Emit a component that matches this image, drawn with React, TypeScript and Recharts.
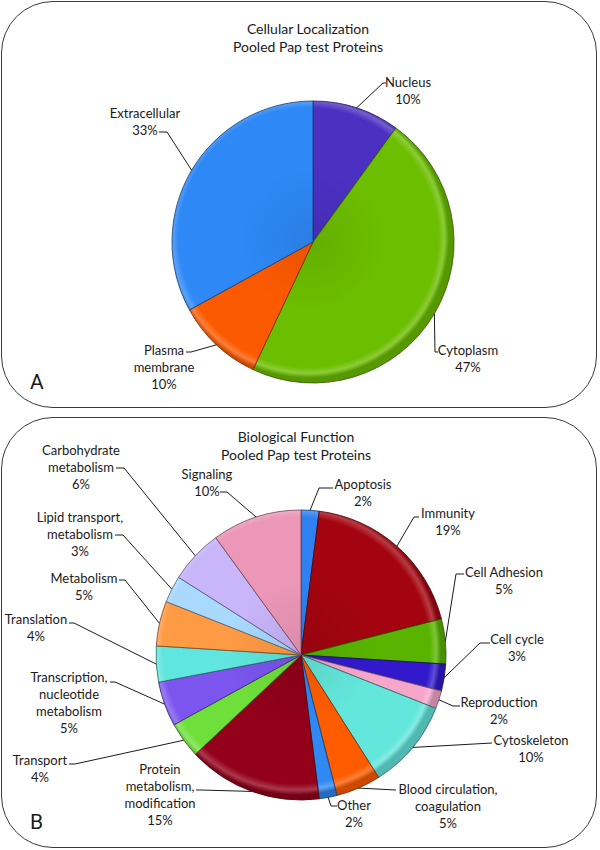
import { PieChart, Pie, Cell } from "recharts";

// ─── data ───────────────────────────────────────────
const LOC_NAMES = ["Nucleus", "Cytoplasm", "Plasma\nmembrane", "Extracellular"];
const LOC_VALUES = [10, 47, 10, 33];

const FUNC_NAMES = [
  "Apoptosis",
  "Immunity",
  "Cell Adhesion",
  "Cell cycle",
  "Reproduction",
  "Cytoskeleton",
  "Blood circulation,\ncoagulation",
  "Other",
  "Protein\nmetabolism,\nmodification",
  "Transport",
  "Transcription,\nnucleotide\nmetabolism",
  "Translation",
  "Metabolism",
  "Lipid transport,\nmetabolism",
  "Carbohydrate\nmetabolism",
  "Signaling",
];
const FUNC_VALUES = [2, 19, 5, 3, 2, 10, 5, 2, 15, 4, 5, 4, 5, 3, 6, 10];

const locData = LOC_NAMES.map((name, i) => ({ name, value: LOC_VALUES[i] }));
const funcData = FUNC_NAMES.map((name, i) => ({ name, value: FUNC_VALUES[i] }));

// ─── styles / layout ────────────────────────────────
const LOC_COLORS = ["#4B30C2", "#6CBE00", "#FC5A00", "#2E88F6"];
const FUNC_COLORS = [
  "#2F80F0", "#A3040F", "#58B400", "#3219CC", "#F5A6CA", "#63E6DC",
  "#FF5C00", "#3088F2", "#92001A", "#6FE03A", "#7B55EE", "#5FE6DE",
  "#FF9A45", "#A9D9FF", "#C9B5FA", "#EC97B8",
];

const PIE_A = { cx: 308, cy: 237, r: 141 };
const PIE_B = { cx: 296, cy: 650, r: 145 };

// text centre + leader path (after the slice edge point)
type LabelPos = { x: number; y: number; path: number[][] };
const LOC_LABELS: LabelPos[] = [
  { x: 408, y: 82, path: [[383, 83], [386, 83]] },
  { x: 468, y: 350, path: [[435, 352], [438, 352]] },
  { x: 164, y: 350, path: [[191, 352], [186, 352]] },
  { x: 145, y: 113, path: [[167, 132], [159, 132]] },
];
const FUNC_LABELS: LabelPos[] = [
  { x: 363, y: 484, path: [[319, 488], [333, 488]] },
  { x: 448, y: 513, path: [[414, 517], [419, 517]] },
  { x: 504, y: 572, path: [[456, 574], [464, 574]] },
  { x: 517, y: 639, path: [[480, 643], [490, 643]] },
  { x: 499, y: 702, path: [[453, 706], [460, 706]] },
  { x: 531, y: 740, path: [[492, 743]] },
  { x: 448, y: 789, path: [[396, 790]] },
  { x: 354, y: 805, path: [[331, 806], [337, 806]] },
  { x: 160, y: 769, path: [[201, 790], [196, 790]] },
  { x: 40, y: 760, path: [[75, 764], [69, 764]] },
  { x: 69, y: 677, path: [[115, 682], [110, 682]] },
  { x: 36, y: 619, path: [[74, 623], [69, 623]] },
  { x: 84, y: 578, path: [[125, 580], [119, 580]] },
  { x: 80, y: 517, path: [[123, 535], [115, 535]] },
  { x: 81, y: 450, path: [[124, 468], [116, 468]] },
  { x: 207, y: 474, path: [[227, 492], [220, 492]] },
];

const FONT = "Lato, 'Open Sans', sans-serif";
const LINE_H = 17;
const RADIAN = Math.PI / 180;

function shade(hex: string, amt: number) {
  const n = parseInt(hex.slice(1), 16);
  const ch = [(n >> 16) & 255, (n >> 8) & 255, n & 255].map((c) =>
    Math.round(amt >= 0 ? c + (255 - c) * amt : c * (1 + amt))
  );
  return "#" + ch.map((c) => c.toString(16).padStart(2, "0")).join("");
}

// soft bevel: slightly deeper centre, light rim, dark outer edge
function Gradients({ id, colors, pie }: { id: string; colors: string[]; pie: typeof PIE_A }) {
  return (
    <>
      {colors.map((c, i) => (
        <radialGradient
          key={i}
          id={`${id}-${i}`}
          gradientUnits="userSpaceOnUse"
          cx={pie.cx}
          cy={pie.cy}
          r={pie.r}
          fx={pie.cx + 6}
          fy={pie.cy + 6}
        >
          <stop offset="0" stopColor={shade(c, -0.08)} />
          <stop offset="0.5" stopColor={c} />
          <stop offset="0.92" stopColor={c} />
          <stop offset="0.965" stopColor={shade(c, 0.22)} />
          <stop offset="1" stopColor={shade(c, -0.2)} />
        </radialGradient>
      ))}
    </>
  );
}

function makeLabel(layout: LabelPos[]) {
  return (props: any) => {
    const { cx, cy, midAngle, outerRadius, index, name, value } = props;
    const pos = layout[index];
    if (!pos) return null;
    const ex = cx + outerRadius * Math.cos(-midAngle * RADIAN);
    const ey = cy + outerRadius * Math.sin(-midAngle * RADIAN);
    const pts = [[ex, ey], ...pos.path].map((p) => p.join(",")).join(" ");
    const lines = [...String(name).split("\n"), `${value}%`];
    return (
      <g>
        <polyline points={pts} fill="none" stroke="#1a1a1a" strokeWidth={1} />
        {lines.map((t, i) => (
          <text
            key={i}
            x={pos.x}
            y={pos.y + i * LINE_H}
            textAnchor="middle"
            dominantBaseline="central"
            fontFamily={FONT}
            fontSize={13}
            fill="#1a1a1a"
          >
            {t}
          </text>
        ))}
      </g>
    );
  };
}

const panel = (top: number, height: number): React.CSSProperties => ({
  position: "absolute",
  left: 1,
  top,
  width: 596,
  height,
  border: "1px solid #3a3a3a",
  borderRadius: 52,
  boxSizing: "border-box",
});

const title = (cx: number, top: number): React.CSSProperties => ({
  position: "absolute",
  left: cx - 150,
  top,
  width: 300,
  textAlign: "center",
  fontFamily: FONT,
  fontSize: 14,
  lineHeight: "18px",
  color: "#1a1a1a",
});

const letter = (top: number): React.CSSProperties => ({
  position: "absolute",
  left: 30,
  top,
  fontFamily: "Roboto, sans-serif",
  fontSize: 21,
  lineHeight: "24px",
  color: "#1a1a1a",
});

export default function App() {
  return (
    <div
      style={{
        position: "absolute",
        left: 0,
        top: 0,
        width: 600,
        height: 850,
        background: "#fff",
        overflow: "hidden",
      }}
    >
      <div style={panel(1, 407)} />
      <div style={panel(417, 431)} />
      <div style={title(PIE_A.cx, 20)}>
        Cellular Localization
        <br />
        Pooled Pap test Proteins
      </div>
      <div style={title(PIE_B.cx, 428)}>
        Biological Function
        <br />
        Pooled Pap test Proteins
      </div>
      <div style={letter(370)}>A</div>
      <div style={letter(810)}>B</div>
      <div style={{ position: "absolute", left: 0, top: 0 }}>
        <PieChart width={600} height={850}>
          <defs>
            <Gradients id="ga" colors={LOC_COLORS} pie={PIE_A} />
            <Gradients id="gb" colors={FUNC_COLORS} pie={PIE_B} />
          </defs>
          <Pie
            data={locData}
            dataKey="value"
            nameKey="name"
            cx={PIE_A.cx}
            cy={PIE_A.cy}
            outerRadius={PIE_A.r}
            startAngle={90}
            endAngle={-270}
            isAnimationActive={false}
            labelLine={false}
            label={makeLabel(LOC_LABELS)}
          >
            {locData.map((_, i) => (
              <Cell
                key={i}
                fill={`url(#ga-${i})`}
                stroke={shade(LOC_COLORS[i], -0.55)}
                strokeWidth={0.8}
              />
            ))}
          </Pie>
          <Pie
            data={funcData}
            dataKey="value"
            nameKey="name"
            cx={PIE_B.cx}
            cy={PIE_B.cy}
            outerRadius={PIE_B.r}
            startAngle={90}
            endAngle={-270}
            isAnimationActive={false}
            labelLine={false}
            label={makeLabel(FUNC_LABELS)}
          >
            {funcData.map((_, i) => (
              <Cell
                key={i}
                fill={`url(#gb-${i})`}
                stroke={shade(FUNC_COLORS[i], -0.55)}
                strokeWidth={0.8}
              />
            ))}
          </Pie>
        </PieChart>
      </div>
    </div>
  );
}
